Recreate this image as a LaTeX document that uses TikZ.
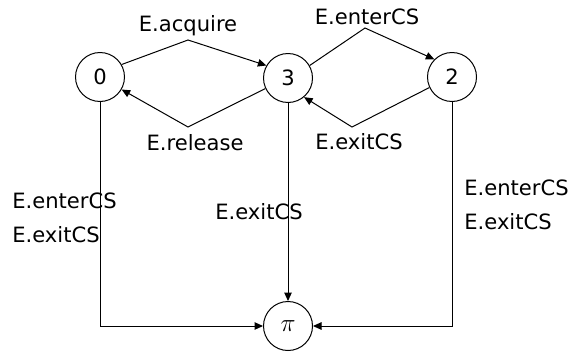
\documentclass[tikz,border=0pt]{standalone}
\usepackage{fontspec}
\setmainfont{DejaVu Sans}
\usetikzlibrary{arrows.meta}
\tikzset{
  state/.style={draw, circle, line width=0.02cm, minimum size=0.98cm, inner sep=0pt},
  trans/.style={line width=0.02cm, -{Triangle[length=0.17cm,width=0.15cm]}},
  lbl/.style={inner sep=0pt, font=\fontsize{12}{14}\selectfont}
}
\begin{document}
\begin{tikzpicture}[x=0.02cm,y=-0.02cm]
\useasboundingbox (0,0) rectangle (573,352);
{\fontsize{12}{14}\selectfont

% Drawing states
\node[state] (s0) at (100,77) {0};%
\node[state] (s3) at (288,78) {3};%
\node[state] (s2) at (452,77) {2};%
\node[state, font=\fontsize{15}{17}\selectfont] (pi) at (288,326) {$\pi$};%

% Bends of the transitions
\coordinate (acq) at (188,40);%
\coordinate (rel) at (188,127);%
\coordinate (ent) at (365,28);%
\coordinate (ext) at (352,127);%

% Drawing transitions
\draw[trans] (s0.30) -- (acq) -- (s3.150);%
\draw[trans] (s3.205) -- (rel) -- (s0.-30);%
\draw[trans] (s3.30) -- (ent) -- (s2.135);%
\draw[trans] (s2.205) -- (ext) -- (s3.-50);%
\draw[trans] (s0.south) |- (pi.west);%
\draw[trans] (s3.south) -- (pi.north);%
\draw[trans] (s2.south) |- (pi.east);%

% Drawing labels
\node[lbl] (tacq) at (188,26) {E.acquire};%
\node[lbl] (trel) at (195,143) {E.release};%
\node[lbl] (tent) at (367,17) {E.enterCS};%
\node[lbl] (text) at (359,142) {E.exitCS};%
\node[lbl, anchor=west] (tlent) at (12,201) {E.enterCS};%
\node[lbl, anchor=west] (tlext) at (12,235) {E.exitCS};%
\node[lbl] (tmext) at (259,212) {E.exitCS};%
\node[lbl, anchor=west] (trent) at (464,188) {E.enterCS};%
\node[lbl, anchor=west] (trext) at (464,222) {E.exitCS};%
}
\end{tikzpicture}
\end{document}
